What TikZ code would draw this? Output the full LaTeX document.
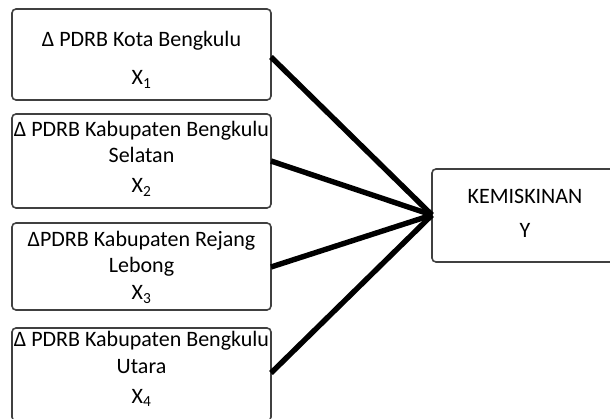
\documentclass[tikz,border=0pt]{standalone}
\usepackage{fontspec}
\setmainfont{Carlito}
\begin{document}
\begin{tikzpicture}[x=1pt,y=-1pt,
  box/.style={draw=black!75,line width=1.6pt,rounded corners=4pt,fill=white,inner sep=0pt},
  lbl/.style={anchor=base,inner sep=0pt,font=\fontsize{22}{26}\selectfont},
  conn/.style={line width=5.4pt,black}]
\useasboundingbox (0,0) rectangle (610,419);
\path[box] (12,9) rectangle (271,100);
\path[box] (12,114) rectangle (271,208);
\path[box] (12,223) rectangle (271,310);
\path[box] (12,328) rectangle (271,421);
\path[box] (432,169) rectangle (620,262);
\coordinate (b1) at (271,57);
\coordinate (b2) at (271,161);
\coordinate (b3) at (271,267);
\coordinate (b4) at (271,373);
\coordinate (y) at (432,215);
\node[lbl] (t1a) at (141.5,47) {Δ PDRB Kota Bengkulu};
\node[lbl] (t1b) at (141.5,85) {X\textsubscript{1}};
\node[lbl] (t2a) at (141.5,137) {Δ PDRB Kabupaten Bengkulu};
\node[lbl] (t2b) at (141.5,163) {Selatan};
\node[lbl] (t2c) at (141.5,193) {X\textsubscript{2}};
\node[lbl] (t3a) at (141.5,247) {ΔPDRB Kabupaten Rejang};
\node[lbl] (t3b) at (141.5,273) {Lebong};
\node[lbl] (t3c) at (141.5,300) {X\textsubscript{3}};
\node[lbl] (t4a) at (141.5,347) {Δ PDRB Kabupaten Bengkulu};
\node[lbl] (t4b) at (141.5,373) {Utara};
\node[lbl] (t4c) at (141.5,403) {X\textsubscript{4}};
\node[lbl] (ya) at (525,204) {KEMISKINAN};
\node[lbl] (yb) at (525,238) {Y};
\draw[conn] (b1) -- (y);
\draw[conn] (b2) -- (y);
\draw[conn] (b3) -- (y);
\draw[conn] (b4) -- (y);
\end{tikzpicture}
\end{document}
